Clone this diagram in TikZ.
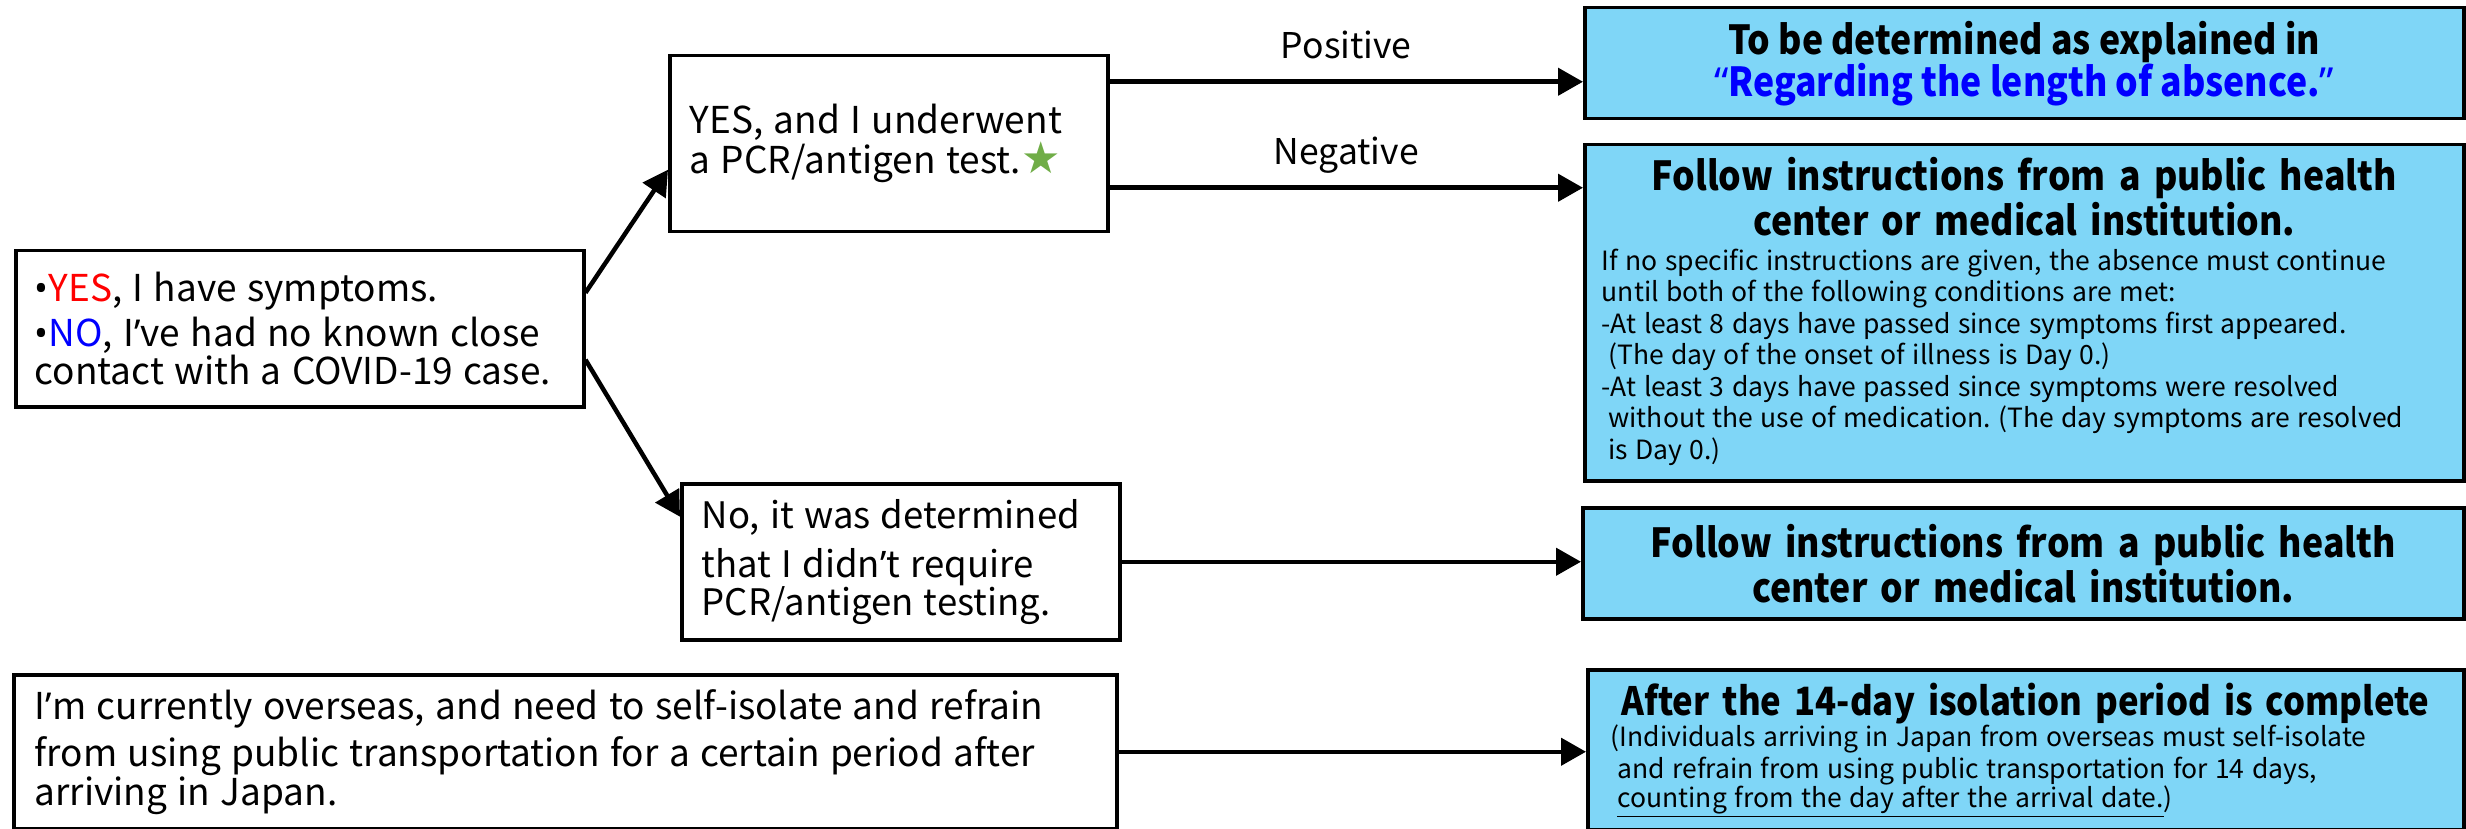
\documentclass[tikz,border=0pt]{standalone}
\usepackage{fontspec}
\setmainfont{Noto Sans CJK JP}
\newfontfamily\headf{Noto Sans CJK JP}[FakeStretch=0.89]
\newfontfamily\latinq{Noto Sans}
\newfontfamily\symf{DejaVu Sans}
\usetikzlibrary{arrows.meta}
\definecolor{boxblue}{RGB}{127,214,247}
\definecolor{stargreen}{RGB}{112,173,71}
\definecolor{refblue}{RGB}{0,0,255}
\definecolor{yesred}{RGB}{255,0,0}
\newcommand{\apo}{{\latinq ’}}
\newcommand{\oqt}{{\latinq “}}
\newcommand{\cqt}{{\latinq ”}}
\newcommand{\bul}{{\latinq •}}
\newcommand{\rsp}{\spaceskip=.28em\xspaceskip=.28em\relax}
\newcommand{\hsp}{\spaceskip=.3333em\xspaceskip=.3333em\relax}
\newcommand{\htxt}{\headf\fontsize{40}{45}\selectfont\bfseries\hsp}
\newcommand{\btxt}{\normalfont\fontsize{26.5}{31.5}\selectfont\rsp}
\tikzset{
  qbox/.style={draw=black, line width=3.5pt, fill=white, anchor=north west,
    inner xsep=19pt, inner ysep=0pt, align=left},
  abox/.style={draw=black, line width=3.5pt, fill=boxblue, anchor=north west,
    inner xsep=0pt, inner ysep=0pt},
  link/.style={line width=4.5pt, -{Triangle[length=25pt,width=27pt]}},
  lbl/.style={font=\fontsize{35.5}{40}\selectfont, inner sep=0pt, anchor=base}
}
\begin{document}
\begin{tikzpicture}[x=1pt, y=-1pt]
\useasboundingbox (0,0) rectangle (2466,829);

% question boxes
\node[qbox, minimum width=568pt, minimum height=156pt, text width=530pt] (sym) at (14,249)
  {\fontsize{37}{45}\selectfont\rsp\bul{\color{yesred}YES}, I have symptoms.\\
   \bul{\color{refblue}NO}, I\apo ve had no known close\\
   contact with a COVID-19 case.};

\node[qbox, minimum width=438pt, minimum height=176pt, text width=398pt, inner xsep=20pt] (pcr) at (668,54)
  {\fontsize{37}{52}\selectfont\rsp YES, and I underwent\\
   a PCR/antigen test.{\color{stargreen}\symf\fontsize{44}{52}\selectfont ★}};

\node[qbox, minimum width=438pt, minimum height=156pt, text width=398pt, inner xsep=20pt] (notest) at (680,482)
  {\fontsize{36.5}{49}\selectfont\rsp No, it was determined\\
   that I didn\apo t require\\
   PCR/antigen testing.};

\node[qbox, minimum width=1103pt, minimum height=154pt, text width=1061pt, inner xsep=21pt] (over) at (12,673)
  {\fontsize{37}{47}\selectfont\rsp I\apo m currently overseas, and need to self-isolate and refrain\\
   from using public transportation for a certain period after\\
   arriving in Japan.};

% answer boxes
\node[abox, align=center, minimum width=879pt, minimum height=111pt, font=\headf\fontsize{40}{42}\selectfont\bfseries] (pos) at (1583,6)
  {To be determined as explained in\\
   {\color{refblue}\oqt Regarding the length of absence.\cqt}};

\node[abox, minimum width=879pt, minimum height=336pt] (neg) at (1583,143)
  {\parbox[c][330pt][t]{845pt}{\raggedright\vspace*{10pt}%
   \htxt\rule{0pt}{32pt}\makebox[845pt]{Follow instructions from a public health}\\
   \makebox[845pt]{center or medical institution.}\\[3pt]
   \btxt If no specific instructions are given, the absence must continue\\
   until both of the following conditions are met:\\
   -At least 8 days have passed since symptoms first appeared.\\
   \hspace*{0.25em}(The day of the onset of illness is Day 0.)\\
   -At least 3 days have passed since symptoms were resolved\\
   \hspace*{0.25em}without the use of medication. (The day symptoms are resolved\\
   \hspace*{0.25em}is Day 0.)}};

\node[abox, align=center, minimum width=881pt, minimum height=111pt, font=\htxt] (follow) at (1581,506)
  {Follow instructions from a public health\\
   center or medical institution.};

\node[abox, minimum width=876pt, minimum height=160pt, align=left, text width=830pt, inner xsep=23pt] (after) at (1586,668)
  {\headf\fontsize{39}{42}\selectfont\bfseries\hsp\makebox[830pt]{After the 14-day isolation period is complete}\\
   \btxt (Individuals arriving in Japan from overseas must self-isolate\\
   \hspace*{0.25em}and refrain from using public transportation for 14 days,\\
   \hspace*{0.25em}\underline{counting from the day after the arrival date.})};

% connectors
\draw[link] ([yshift=36pt]sym.east) -- ([yshift=-26pt]pcr.west);
\draw[link] ([yshift=-31pt]sym.east) -- ([yshift=45pt]notest.west);
\draw[link] ([yshift=62pt]pcr.east) -- ([yshift=62pt]pcr.east -| pos.west)
  node[lbl, midway, yshift=23pt] (lpos) {Positive};
\draw[link] ([yshift=-44pt]pcr.east) -- ([yshift=-44pt]pcr.east -| neg.west)
  node[lbl, midway, yshift=23pt] (lneg) {Negative};
\draw[link] (notest.east) -- (notest.east -| follow.west);
\draw[link] (over.east) -- (over.east -| after.west);
\end{tikzpicture}
\end{document}
